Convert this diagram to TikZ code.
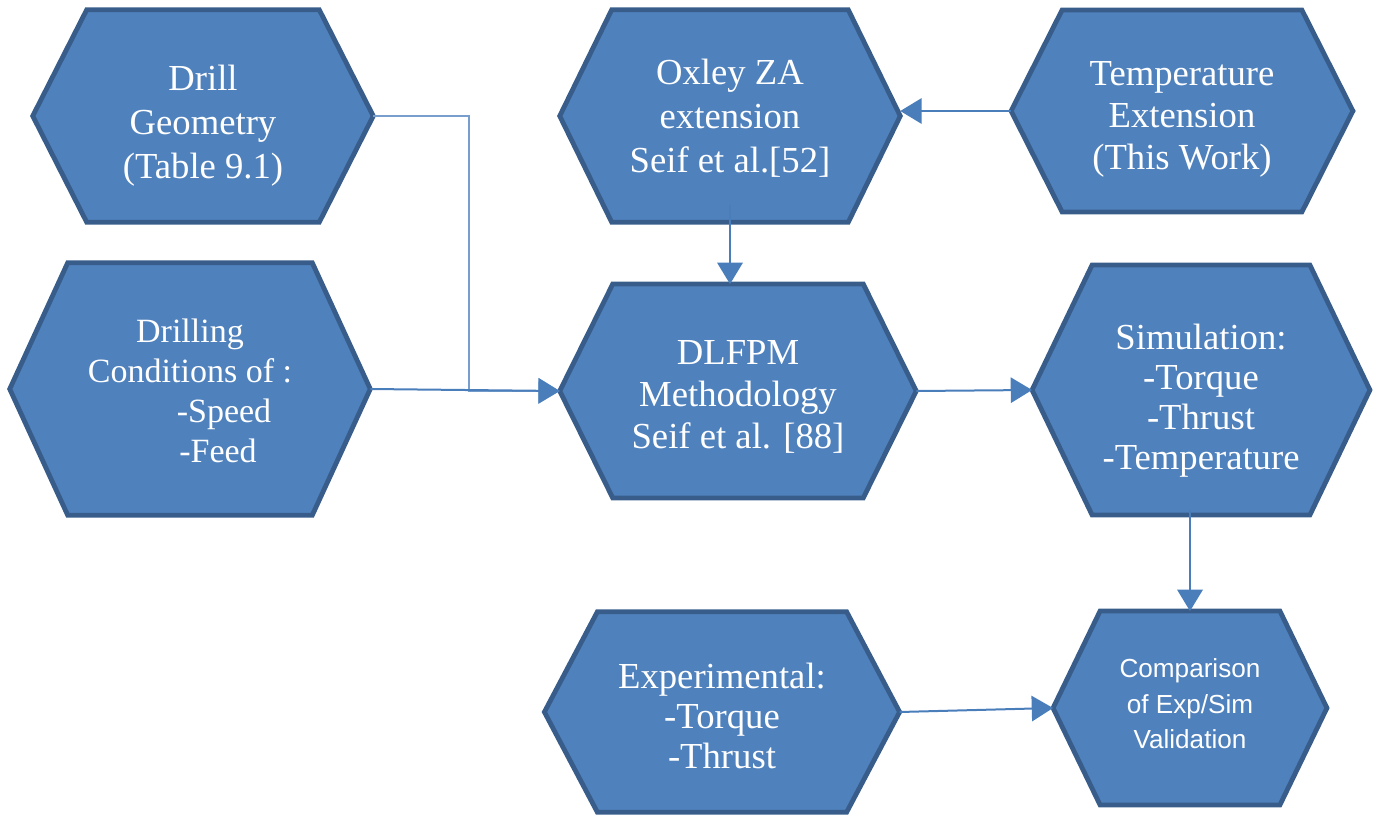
\documentclass[tikz,border=0pt]{standalone}
\usepackage{fontspec}
\setmainfont{Liberation Serif}
\setsansfont{Liberation Sans}
\usetikzlibrary{arrows.meta,positioning,calc,backgrounds}
\definecolor{HexFill}{HTML}{4F81BD}
\definecolor{HexEdge}{HTML}{385D8A}
\definecolor{Link}{HTML}{4A7EBB}

\begin{document}
\begin{tikzpicture}[x=0.75pt,y=-0.75pt,
    hex/.style={inner sep=0pt},
    box/.style={text=white,align=center,inner sep=0pt,font=\fontsize{27.5}{33}\selectfont},
    hexline/.style={draw=HexEdge,line width=3.6pt,fill=HexFill,line join=miter},
    link/.style={draw=Link,line width=1.5pt,-{Triangle[length=16pt,width=19pt]}}]
  \useasboundingbox (0,0) rectangle (1379,817);

  % hexagon frames (outlines drawn below), text sits a little off centre
  \node[hex,minimum width=255pt,minimum height=159pt] (drill) at (203,116) {};
  \node[hex,minimum width=270pt,minimum height=189pt] (cond) at (190,389) {};
  \node[hex,minimum width=255pt,minimum height=159pt] (oxley) at (730,116) {};
  \node[hex,minimum width=256pt,minimum height=151pt] (temp) at (1182,111) {};
  \node[hex,minimum width=267pt,minimum height=160pt] (dlfpm) at (738,391) {};
  \node[hex,minimum width=253pt,minimum height=187pt] (sim) at (1201,390) {};
  \node[hex,minimum width=266pt,minimum height=150pt] (exp) at (722,712) {};
  \node[hex,minimum width=205pt,minimum height=145pt] (comp) at (1190,708) {};

  \begin{scope}[on background layer]
    \foreach \n/\i in {drill/54,cond/58,oxley/52,temp/51,dlfpm/53,sim/60,exp/53,comp/47}
      \draw[hexline] (\n.west) -- ($(\n.north west)+(\i,0)$) -- ($(\n.north east)-(\i,0)$)
        -- (\n.east) -- ($(\n.south east)-(\i,0)$) -- ($(\n.south west)+(\i,0)$) -- cycle;
  \end{scope}

  \node[box] (drillTxt) at ([yshift=-7.5pt]drill) {Drill\\Geometry\\(Table 9.1)};
  \node[box,font=\fontsize{25.5}{30}\selectfont] (condTxt) at ([yshift=-1.5pt]cond)
    {Drilling\\Conditions of :\\\hspace*{51pt}-Speed\\\hspace*{42pt}-Feed};
  \node[box] (oxleyTxt) at ([yshift=-1.5pt]oxley) {Oxley ZA\\extension\\Seif et al.[52]};
  \node[box,font=\fontsize{27.5}{31.5}\selectfont] (tempTxt) at ([yshift=-6pt]temp)
    {Temperature\\Extension\\(This Work)};
  \node[box,font=\fontsize{27.5}{31.5}\selectfont] (dlfpmTxt) at ([yshift=-4.5pt]dlfpm)
    {DLFPM\\Methodology\\Seif et al. [88]};
  \node[box,font=\fontsize{27.5}{30}\selectfont] (simTxt) at ([yshift=-8pt]sim)
    {Simulation:\\-Torque\\-Thrust\\-Temperature};
  \node[box,font=\fontsize{27.5}{30}\selectfont] (expTxt) at ([yshift=-3pt]exp)
    {Experimental:\\-Torque\\-Thrust};
  \node[box,font=\sffamily\fontsize{19.6}{26.6}\selectfont] (compTxt) at ([yshift=3pt]comp)
    {Comparison\\of Exp/Sim\\Validation};

  % connectors
  \draw[link,draw=Link!75,line width=0.9pt] (drill.east) -| ([xshift=-68pt]dlfpm.west) -- (dlfpm.west);
  \draw[link] (cond.east) -- (dlfpm.west);
  \draw[link] (temp.west) -- (temp.west -| oxley.east);
  \draw[link] ([yshift=13pt]oxley.south) -- (dlfpm.north -| oxley.south);
  \draw[link] (dlfpm.east) -- (sim.west);
  \draw[link] ([yshift=4pt]sim.south -| comp.north) -- (comp.north);
  \draw[link] (exp.east) -- (comp.west);
\end{tikzpicture}
\end{document}
